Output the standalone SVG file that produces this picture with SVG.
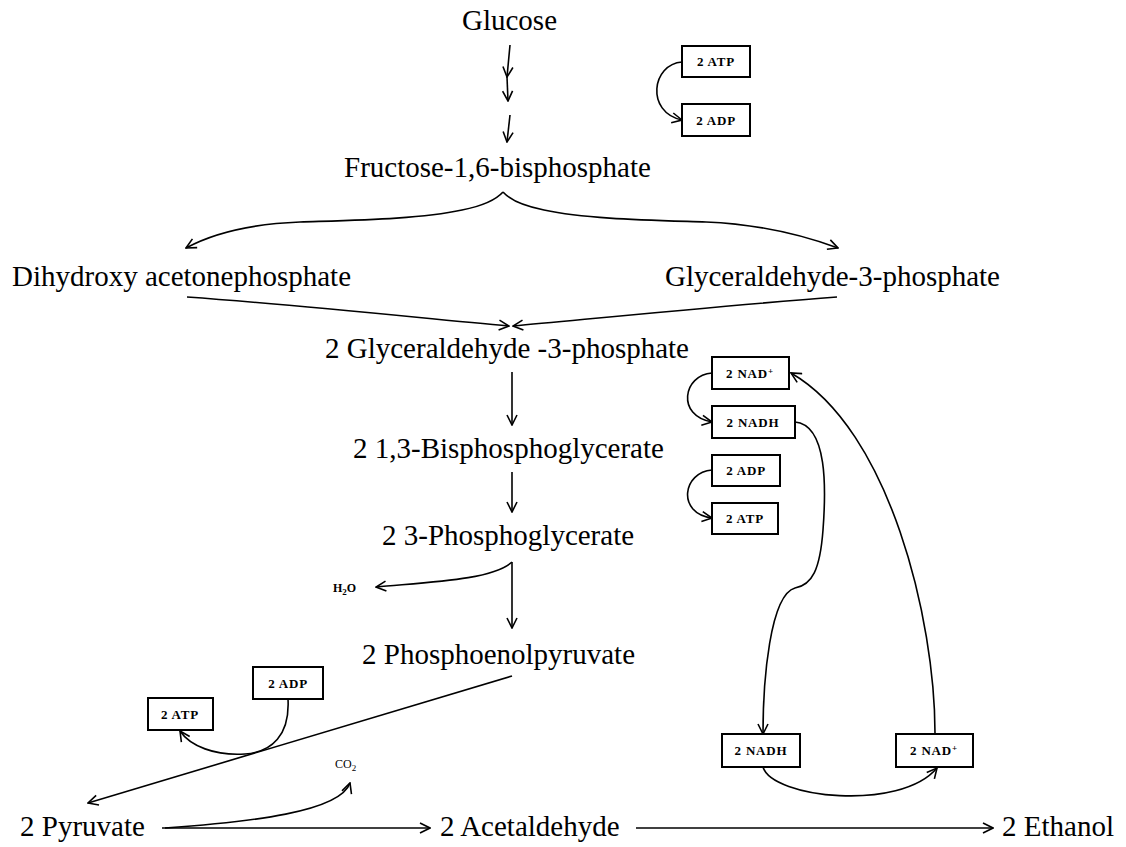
<svg xmlns="http://www.w3.org/2000/svg" width="1126" height="847" viewBox="0 0 1126 847">
<defs>
<marker id="ah" viewBox="0 0 12 12" refX="11" refY="6" markerWidth="12" markerHeight="12" markerUnits="userSpaceOnUse" orient="auto">
<path d="M1,1 L11,6 L1,11" fill="none" stroke="#000" stroke-width="1.6"/>
</marker>
</defs>
<style>
text{font-family:'Liberation Serif','Times New Roman',Times,serif;fill:#000}
.t{font-size:29px}
.s{font-size:13px;font-weight:bold;letter-spacing:0.8px}
.m{font-size:12px}
.b{fill:#fff;stroke:#000;stroke-width:2}
.c{fill:none;stroke:#000;stroke-width:1.6;marker-end:url(#ah)}
</style>
<rect width="1126" height="847" fill="#fff"/>
<g id="connectors">
<path class="c" d="M510,45 L507,77"/>
<path class="c" d="M507,77 L508,101"/>
<path class="c" d="M510,115 L507,142"/>
<path class="c" d="M682,62 C 652,64 645,112 682,120"/>
<path class="c" d="M503,192 C 495,201 482,206 462,210 C 420,219 360,220 300,222 C 250,224 212,234 186,248"/>
<path class="c" d="M503,192 C 511,201 524,206 544,210 C 586,219 646,220 706,222 C 756,224 800,234 838,248"/>
<path class="c" d="M187,297 C 300,305 420,318 509,326"/>
<path class="c" d="M837,297 C 730,305 600,318 513,326"/>
<path class="c" d="M512,372 L512,425"/>
<path class="c" d="M512,472 L512,512"/>
<path class="c" d="M512,562 L512,628"/>
<path class="c" d="M512,562 C 492,580 430,582 376,587"/>
<path class="c" d="M712,373 C 683,375 676,416 712,422"/>
<path class="c" d="M712,470 C 683,472 676,513 712,518"/>
<path class="c" d="M795,422 C 828,425 826,490 823,530 C 820,570 812,585 795,588 C 770,595 763,680 763,734"/>
<path class="c" d="M935,733 C 935,620 890,430 791,373"/>
<path class="c" d="M763,767 C 772,798 900,812 937,768"/>
<path class="c" d="M512,676 L88,803"/>
<path class="c" d="M288,699 C 290,735 272,752 245,754 C 215,756 190,746 180,731"/>
<path class="c" d="M165,828 C 250,822 340,812 350,783"/>
<path class="c" d="M162,828 L430,828"/>
<path class="c" d="M636,828 L993,828"/>
</g>
<g id="glucose"><text class="t" x="462" y="30">Glucose</text></g>
<g id="f16bp"><text class="t" x="344" y="177">Fructose-1,6-bisphosphate</text></g>
<g id="dhap"><text class="t" x="12" y="286">Dihydroxy acetonephosphate</text></g>
<g id="g3p"><text class="t" x="665" y="286">Glyceraldehyde-3-phosphate</text></g>
<g id="g3p2"><text class="t" x="325" y="358">2 Glyceraldehyde -3-phosphate</text></g>
<g id="bpg"><text class="t" x="353" y="458">2 1,3-Bisphosphoglycerate</text></g>
<g id="pg3"><text class="t" x="382" y="545">2 3-Phosphoglycerate</text></g>
<g id="pep"><text class="t" x="362" y="664">2 Phosphoenolpyruvate</text></g>
<g id="pyruvate"><text class="t" x="20" y="836">2 Pyruvate</text></g>
<g id="acetaldehyde"><text class="t" x="440" y="836">2 Acetaldehyde</text></g>
<g id="ethanol"><text class="t" x="1002" y="836">2 Ethanol</text></g>
<g id="atp1"><rect class="b" x="682" y="46" width="68" height="31"/><text class="s" x="716" y="66" text-anchor="middle">2 ATP</text></g>
<g id="adp1"><rect class="b" x="682" y="104" width="68" height="32"/><text class="s" x="716" y="125" text-anchor="middle">2 ADP</text></g>
<g id="nad1"><rect class="b" x="712" y="357" width="77" height="32"/><text class="s" x="750" y="378" text-anchor="middle">2 NAD<tspan dy="-4" font-size="9">+</tspan></text></g>
<g id="nadh1"><rect class="b" x="712" y="406" width="83" height="32"/><text class="s" x="753" y="427" text-anchor="middle">2 NADH</text></g>
<g id="adp2"><rect class="b" x="712" y="455" width="68" height="31"/><text class="s" x="746" y="475" text-anchor="middle">2 ADP</text></g>
<g id="atp2"><rect class="b" x="712" y="503" width="66" height="31"/><text class="s" x="745" y="523" text-anchor="middle">2 ATP</text></g>
<g id="h2o"><text class="m" x="333" y="592" font-weight="bold">H<tspan dy="3" font-size="9">2</tspan><tspan dy="-3">O</tspan></text></g>
<g id="adp3"><rect class="b" x="253" y="667" width="70" height="32"/><text class="s" x="288" y="688" text-anchor="middle">2 ADP</text></g>
<g id="atp3"><rect class="b" x="148" y="698" width="65" height="32"/><text class="s" x="180" y="719" text-anchor="middle">2 ATP</text></g>
<g id="co2"><text class="m" x="335" y="768">CO<tspan dy="3" font-size="9">2</tspan></text></g>
<g id="nadh2"><rect class="b" x="722" y="734" width="78" height="33"/><text class="s" x="761" y="755" text-anchor="middle">2 NADH</text></g>
<g id="nad2"><rect class="b" x="896" y="734" width="77" height="33"/><text class="s" x="934" y="755" text-anchor="middle">2 NAD<tspan dy="-4" font-size="9">+</tspan></text></g>
</svg>
